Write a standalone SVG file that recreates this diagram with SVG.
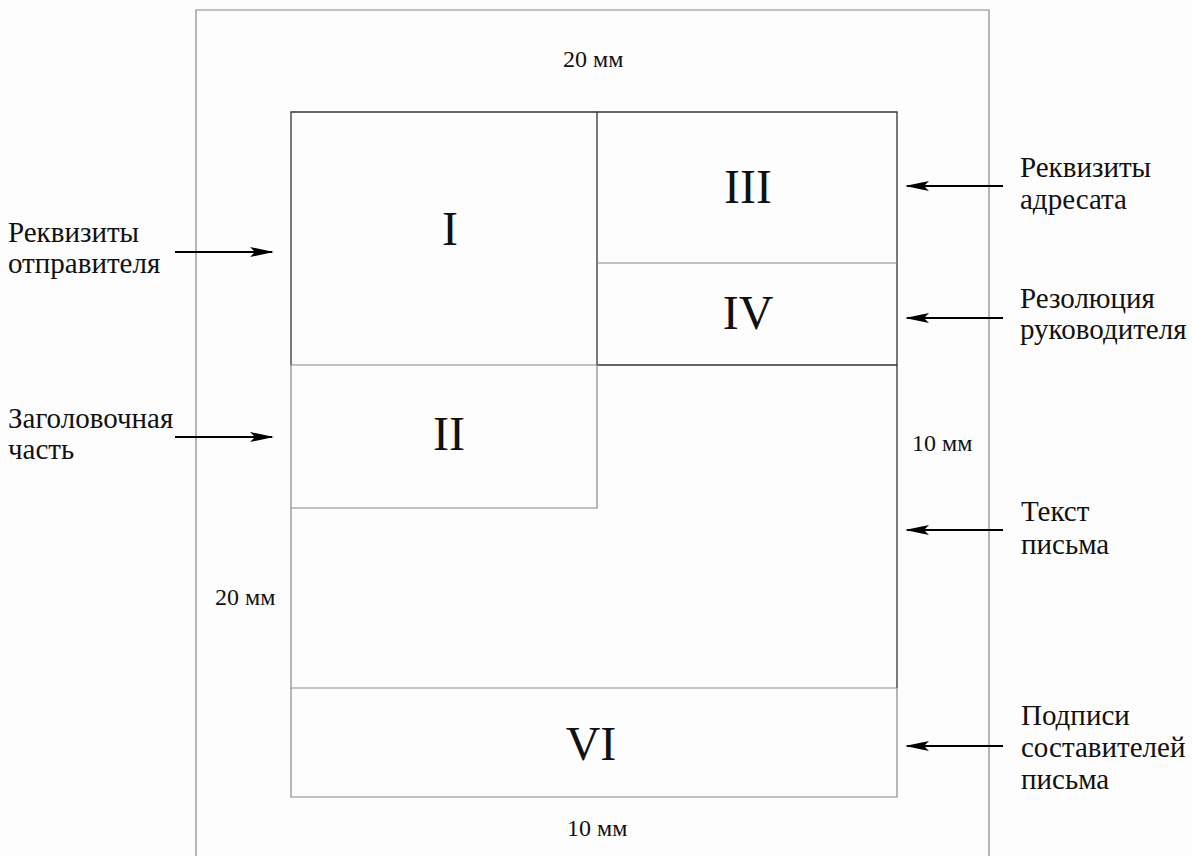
<svg xmlns="http://www.w3.org/2000/svg" width="1192" height="856" viewBox="0 0 1192 856">
<defs>
<marker id="ah" markerWidth="24" markerHeight="10" refX="22" refY="5" orient="auto" markerUnits="userSpaceOnUse">
<path d="M0,0 L24,5 L0,10 L5,5 Z" fill="#000"/>
</marker>
<style>
.t{font-family:"Liberation Serif","Times New Roman",serif;fill:#111}
.lab{font-size:29px}
.mm{font-size:24px}
.num{font-size:48px;text-anchor:middle}
.dk{stroke:#333;stroke-width:1.3;fill:none}
.lt{stroke:#888;stroke-width:1.2;fill:none}
.conn line{stroke:#000;stroke-width:2;marker-end:url(#ah)}
</style>
</defs>
<rect width="1192" height="856" fill="#fdfdfd"/>
<g id="page"><path class="lt" d="M196,870 V10 H989 V870"/></g>
<g id="block-I"><path class="dk" d="M291,365 V112 H597 V365"/><text class="t num" x="450" y="245">I</text></g>
<g id="block-III"><path class="dk" d="M597,112 H897 V365"/><line class="lt" x1="597" y1="263" x2="897" y2="263"/><text class="t num" x="748" y="203">III</text></g>
<g id="block-IV"><line class="dk" x1="597" y1="365" x2="897" y2="365"/><text class="t num" x="748" y="329">IV</text></g>
<g id="block-II"><path class="lt" d="M291,365 H597 V508 H291"/><text class="t num" x="449" y="450">II</text></g>
<g id="block-text"><path class="lt" d="M291,365 V688 H897"/><line class="dk" x1="897" y1="365" x2="897" y2="688"/></g>
<g id="block-VI"><path class="lt" d="M291,688 V797 H897 V688"/><text class="t num" x="591" y="760">VI</text></g>
<g id="margins">
<text class="t mm" x="563" y="67">20 мм</text>
<text class="t mm" x="215" y="605">20 мм</text>
<text class="t mm" x="912" y="451">10 мм</text>
<text class="t mm" x="567" y="836">10 мм</text>
</g>
<g id="label-sender"><text class="t lab" x="8" y="242">Реквизиты</text><text class="t lab" x="8" y="273">отправителя</text></g>
<g id="label-header"><text class="t lab" x="8" y="428">Заголовочная</text><text class="t lab" x="8" y="459">часть</text></g>
<g id="label-addressee"><text class="t lab" x="1020" y="177">Реквизиты</text><text class="t lab" x="1020" y="209">адресата</text></g>
<g id="label-resolution"><text class="t lab" x="1020" y="308">Резолюция</text><text class="t lab" x="1020" y="339">руководителя</text></g>
<g id="label-text"><text class="t lab" x="1021" y="521">Текст</text><text class="t lab" x="1021" y="554">письма</text></g>
<g id="label-signatures"><text class="t lab" x="1021" y="725">Подписи</text><text class="t lab" x="1021" y="757">составителей</text><text class="t lab" x="1021" y="789">письма</text></g>
<g class="conn" id="connectors">
<line x1="175" y1="252" x2="272" y2="252"/>
<line x1="175" y1="437" x2="272" y2="437"/>
<line x1="1003" y1="186" x2="907" y2="186"/>
<line x1="1003" y1="318" x2="907" y2="318"/>
<line x1="1003" y1="530" x2="907" y2="530"/>
<line x1="1003" y1="746" x2="907" y2="746"/>
</g>
</svg>
